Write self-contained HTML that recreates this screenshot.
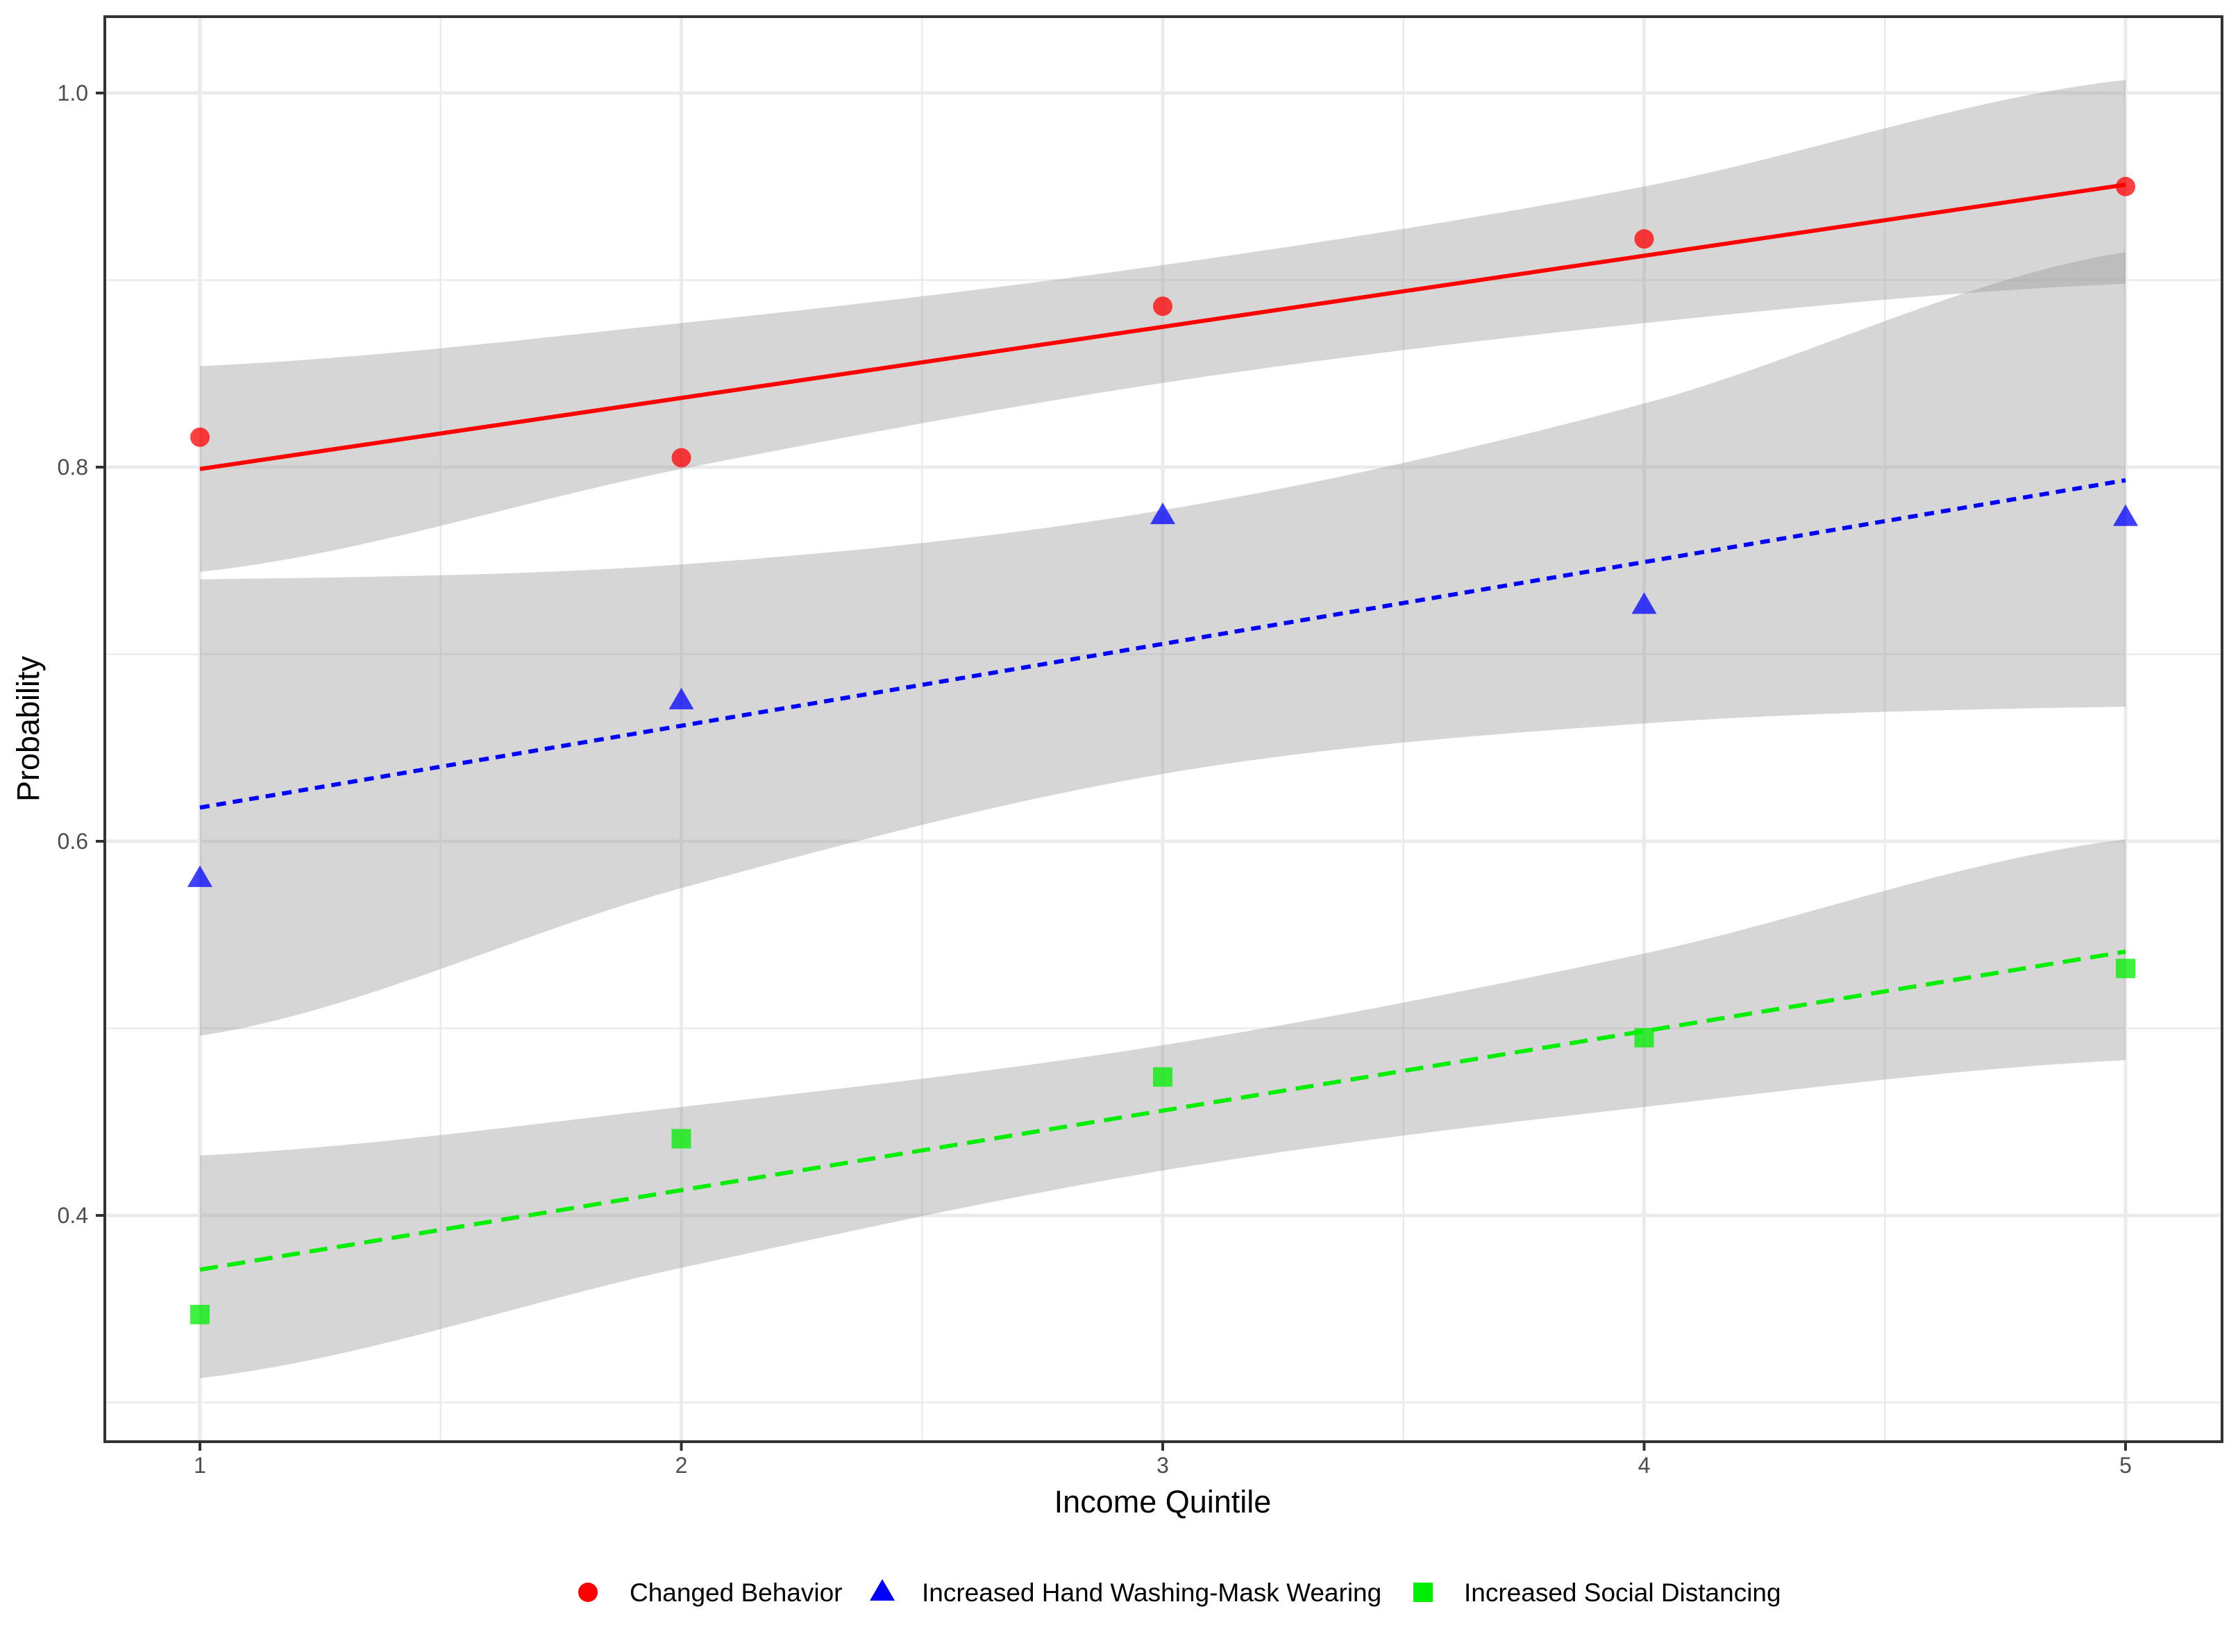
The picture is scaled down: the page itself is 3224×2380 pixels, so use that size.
<!DOCTYPE html>
<html><head><meta charset="utf-8"><style>
html,body{margin:0;padding:0;background:#fff;}
svg text{font-family:"Liberation Sans",Arial,sans-serif;}
</style></head><body>
<svg id="s" width="3224" height="2375" xmlns="http://www.w3.org/2000/svg"></svg>
<script>
const NS="http://www.w3.org/2000/svg", s=document.getElementById('s');
const X=v=>288+(v-1)*693.5, Y=v=>134+(1-v)*2695;
function el(t,a,txt){const e=document.createElementNS(NS,t);for(const k in a)e.setAttribute(k,a[k]);if(txt!==undefined)e.textContent=txt;s.appendChild(e);return e;}
el('rect',{x:0,y:0,width:3224,height:2375,fill:'#fff'});
[0.3,0.5,0.7,0.9].forEach(v=>el('line',{x1:150,x2:3201,y1:Y(v),y2:Y(v),stroke:'#ebebeb','stroke-width':2.5}));
[1.5,2.5,3.5,4.5].forEach(v=>el('line',{x1:X(v),x2:X(v),y1:23,y2:2077,stroke:'#ebebeb','stroke-width':2.5}));
[0.4,0.6,0.8,1.0].forEach(v=>el('line',{x1:150,x2:3201,y1:Y(v),y2:Y(v),stroke:'#ebebeb','stroke-width':5}));
[1,2,3,4,5].forEach(v=>el('line',{x1:X(v),x2:X(v),y1:23,y2:2077,stroke:'#ebebeb','stroke-width':5}));
function cr(pts,n){const out=[];for(let i=0;i<pts.length-1;i++){const p0=pts[Math.max(0,i-1)],p1=pts[i],p2=pts[i+1],p3=pts[Math.min(pts.length-1,i+2)];for(let k=0;k<n;k++){const t=k/n,t2=t*t,t3=t2*t;out.push(0.5*((2*p1)+(-p0+p2)*t+(2*p0-5*p1+4*p2-p3)*t2+(-p0+3*p1-3*p2+p3)*t3));}}out.push(pts[pts.length-1]);return out;}
function band(up,lo){const n=20,U=cr(up,n),L=cr(lo,n);let d='';U.forEach((v,i)=>{d+=(i?'L':'M')+X(1+i/n).toFixed(1)+','+Y(v).toFixed(1);});for(let i=L.length-1;i>=0;i--)d+='L'+X(1+i/n).toFixed(1)+','+Y(L[i]).toFixed(1);el('path',{d:d+'Z',fill:'#999',opacity:0.4});}
band([0.854,0.877,0.908,0.950,1.007],[0.744,0.799,0.845,0.877,0.898]);
band([0.740,0.748,0.777,0.834,0.915],[0.496,0.575,0.636,0.663,0.672]);
band([0.432,0.458,0.491,0.540,0.601],[0.313,0.372,0.424,0.458,0.483]);
el('line',{x1:X(1),y1:Y(0.799),x2:X(5),y2:Y(0.951),stroke:'#ff0000','stroke-width':6});
el('line',{x1:X(1),y1:Y(0.618),x2:X(5),y2:Y(0.793),stroke:'#0000ff','stroke-width':6,'stroke-dasharray':'14,10'});
el('line',{x1:X(1),y1:Y(0.371),x2:X(5),y2:Y(0.541),stroke:'#00ee00','stroke-width':6,'stroke-dasharray':'26,14'});
[0.816,0.805,0.886,0.922,0.950].forEach((v,i)=>el('circle',{cx:X(i+1),cy:Y(v),r:14,fill:'#ff0000',opacity:0.75}));
[0.580,0.675,0.774,0.726,0.773].forEach((v,i)=>{const x=X(i+1),y=Y(v);el('polygon',{points:`${x},${y-19} ${x-18},${y+12} ${x+18},${y+12}`,fill:'#0000ff',opacity:0.75});});
[0.347,0.441,0.474,0.495,0.532].forEach((v,i)=>el('rect',{x:X(i+1)-14,y:Y(v)-14,width:28,height:28,fill:'#00ee00',opacity:0.75}));
el('rect',{x:151,y:24,width:3050,height:2053,fill:'none',stroke:'#333','stroke-width':4});
[0.4,0.6,0.8,1.0].forEach(v=>{el('line',{x1:138,x2:150,y1:Y(v),y2:Y(v),stroke:'#333','stroke-width':4});el('text',{x:127,y:Y(v)+11,'font-size':32,fill:'#4d4d4d','text-anchor':'end'},v.toFixed(1));});
[1,2,3,4,5].forEach(v=>{el('line',{x1:X(v),x2:X(v),y1:2077,y2:2090,stroke:'#333','stroke-width':4});el('text',{x:X(v),y:2122,'font-size':32,fill:'#4d4d4d','text-anchor':'middle'},v);});
el('text',{x:1675,y:2179,'font-size':45,fill:'#000','text-anchor':'middle'},'Income Quintile');
el('text',{x:0,y:0,'font-size':45,fill:'#000','text-anchor':'middle',transform:'translate(56,1050) rotate(-90)'},'Probability');
el('circle',{cx:847,cy:2294,r:14,fill:'#ff0000'});
el('text',{x:907,y:2307,'font-size':37,fill:'#000'},'Changed Behavior');
el('polygon',{points:'1271,2275 1253,2306 1289,2306',fill:'#0000ff'});
el('text',{x:1328,y:2307,'font-size':37,fill:'#000'},'Increased Hand Washing-Mask Wearing');
el('rect',{x:2036,y:2280,width:28,height:28,fill:'#00ee00'});
el('text',{x:2109,y:2307,'font-size':37,fill:'#000'},'Increased Social Distancing');
</script>
</body></html>
